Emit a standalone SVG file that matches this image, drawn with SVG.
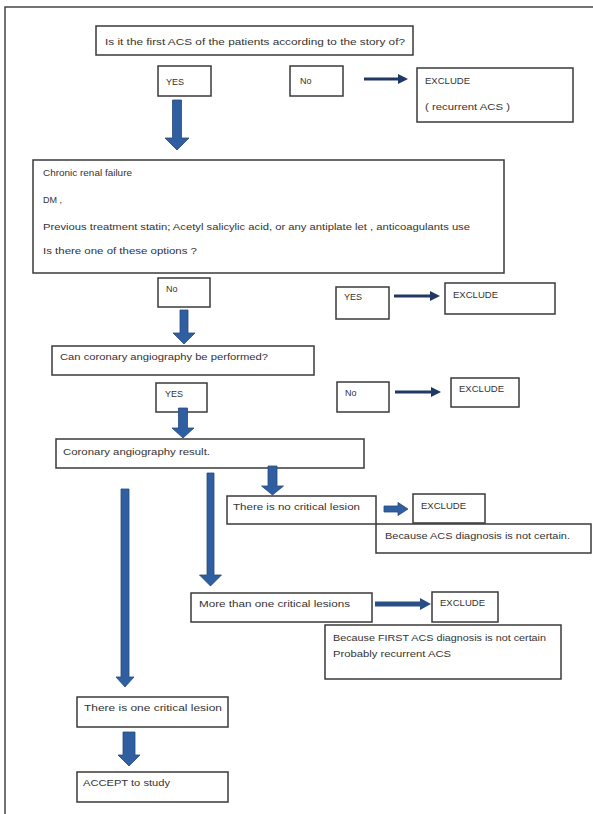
<svg xmlns="http://www.w3.org/2000/svg" width="593" height="814" viewBox="0 0 593 814">
<style>
  .box{fill:#fff;stroke:#3a3a3a;stroke-width:1.5}
  .t{font-family:"Liberation Sans",Arial,sans-serif;font-size:9px;fill:#333}
  .blk{fill:#2f5fa0;stroke:#24497e;stroke-width:0.8}
  .thin{stroke:#1f3864;stroke-width:3;fill:none}
  .thick{stroke:#2a4f86;stroke-width:5;fill:none}
  .frame{stroke:#444;stroke-width:1.5;fill:none}
</style>
<defs>
  <marker id="ah" markerUnits="userSpaceOnUse" markerWidth="10" markerHeight="10" viewBox="0 0 10 10" refX="1" refY="5" orient="auto">
    <path d="M0,0 L10,5 L0,10 z" fill="#1f3864"/>
  </marker>
  <marker id="ahb" markerUnits="userSpaceOnUse" markerWidth="11" markerHeight="12" viewBox="0 0 11 12" refX="1" refY="6" orient="auto">
    <path d="M0,0 L11,6 L0,12 z" fill="#2a4f86"/>
  </marker>
</defs>
<rect width="593" height="814" fill="#fff"/>
<path class="frame" d="M5,814 V7 H593"/>

<g id="q1"><rect class="box" x="96" y="26" width="317" height="29"/><text class="t" x="105" y="45" textLength="300" lengthAdjust="spacingAndGlyphs">Is it the first ACS  of the patients according to the story of?</text></g>
<g id="yes1"><rect class="box" x="158" y="66" width="53" height="30"/><text class="t" x="166" y="85">YES</text></g>
<g id="no1"><rect class="box" x="290" y="66" width="53" height="30"/><text class="t" x="300" y="84">No</text></g>
<g id="excl1"><rect class="box" x="417" y="68" width="156" height="54"/><text class="t" x="425" y="84" textLength="45" lengthAdjust="spacingAndGlyphs">EXCLUDE</text><text class="t" x="425" y="110" textLength="85" lengthAdjust="spacingAndGlyphs">( recurrent ACS )</text></g>

<g id="criteria"><rect class="box" x="33" y="160" width="471" height="113"/>
<text class="t" x="43" y="176" textLength="89" lengthAdjust="spacingAndGlyphs">Chronic renal failure</text>
<text class="t" x="43" y="203">DM ,</text>
<text class="t" x="43" y="230" textLength="427" lengthAdjust="spacingAndGlyphs">Previous treatment  statin; Acetyl salicylic acid, or any antiplate let , anticoagulants use</text>
<text class="t" x="43" y="254" textLength="154" lengthAdjust="spacingAndGlyphs">Is there one of these options ?</text></g>
<g id="no2"><rect class="box" x="158" y="278" width="52" height="29"/><text class="t" x="166" y="292">No</text></g>
<g id="yes2"><rect class="box" x="336" y="287" width="53" height="32"/><text class="t" x="344" y="300">YES</text></g>
<g id="excl2"><rect class="box" x="445" y="283" width="110" height="31"/><text class="t" x="453" y="298" textLength="45" lengthAdjust="spacingAndGlyphs">EXCLUDE</text></g>

<g id="q2"><rect class="box" x="52" y="346" width="262" height="29"/><text class="t" x="60" y="360" textLength="208" lengthAdjust="spacingAndGlyphs">Can coronary angiography be performed?</text></g>
<g id="yes3"><rect class="box" x="156" y="383" width="51" height="29"/><text class="t" x="165" y="397">YES</text></g>
<g id="no3"><rect class="box" x="337" y="382" width="52" height="30"/><text class="t" x="345" y="396">No</text></g>
<g id="excl3"><rect class="box" x="451" y="378" width="68" height="29"/><text class="t" x="459" y="392" textLength="45" lengthAdjust="spacingAndGlyphs">EXCLUDE</text></g>

<g id="result"><rect class="box" x="56" y="439" width="308" height="29"/><text class="t" x="63" y="455" textLength="147" lengthAdjust="spacingAndGlyphs">Coronary angiography result.</text></g>

<g id="because1"><rect class="box" x="376" y="524" width="215" height="29"/><text class="t" x="385" y="539" textLength="185" lengthAdjust="spacingAndGlyphs">Because ACS diagnosis is not certain.</text></g>
<g id="nocrit"><rect class="box" x="227" y="496" width="149" height="28"/><text class="t" x="233" y="510" textLength="127" lengthAdjust="spacingAndGlyphs">There is no critical lesion</text></g>
<g id="excl4"><rect class="box" x="413" y="494" width="72" height="29"/><text class="t" x="421" y="509" textLength="45" lengthAdjust="spacingAndGlyphs">EXCLUDE</text></g>

<g id="more"><rect class="box" x="191" y="593" width="181" height="29"/><text class="t" x="199" y="607" textLength="151" lengthAdjust="spacingAndGlyphs">More than one critical  lesions</text></g>
<g id="excl5"><rect class="box" x="432" y="592" width="66" height="30"/><text class="t" x="440" y="606" textLength="45" lengthAdjust="spacingAndGlyphs">EXCLUDE</text></g>
<g id="because2"><rect class="box" x="325" y="625" width="236" height="54"/><text class="t" x="333" y="641" textLength="213" lengthAdjust="spacingAndGlyphs">Because  FIRST ACS diagnosis is not certain</text><text class="t" x="333" y="657" textLength="118" lengthAdjust="spacingAndGlyphs">Probably recurrent ACS</text></g>

<g id="one"><rect class="box" x="77" y="697" width="151" height="30"/><text class="t" x="84" y="711" textLength="138" lengthAdjust="spacingAndGlyphs">There is one critical lesion</text></g>
<g id="accept"><rect class="box" x="77" y="772" width="151" height="30"/><text class="t" x="83" y="786" textLength="87" lengthAdjust="spacingAndGlyphs">ACCEPT  to study</text></g>

<g id="connectors">
  <polygon class="blk" points="172.5,100 181.5,100 181.5,138 189,138 177,150 165,138 172.5,138"/>
  <line class="thin" x1="364" y1="79" x2="399" y2="79" marker-end="url(#ah)"/>
  <polygon class="blk" points="180,310 188,310 188,333 195,333 184,344 173,333 180,333"/>
  <line class="thin" x1="394" y1="296" x2="431" y2="296" marker-end="url(#ah)"/>
  <polygon class="blk" points="178.5,408 187.5,408 187.5,428 194,428 183,438 172,428 178.5,428"/>
  <line class="thin" x1="395" y1="392" x2="432" y2="392" marker-end="url(#ah)"/>
  <polygon class="blk" points="268,466 277,466 277,486 283.5,486 272.5,495 261.5,486 268,486"/>
  <polygon class="blk" points="207,473 214,473 214,575 221.5,575 210.5,586 199.5,575 207,575"/>
  <polygon class="blk" points="121,489 129,489 129,677 134,677 125,687 116,677 121,677"/>
  <polygon class="blk" points="123,732 135,732 135,755 140,755 129,766 118,755 123,755"/>
  <polygon class="blk" points="384,506 398,506 398,502.5 408,509 398,515.5 398,512 384,512"/>
  <line class="thick" x1="375" y1="604" x2="421" y2="604" marker-end="url(#ahb)"/>
</g>
</svg>
